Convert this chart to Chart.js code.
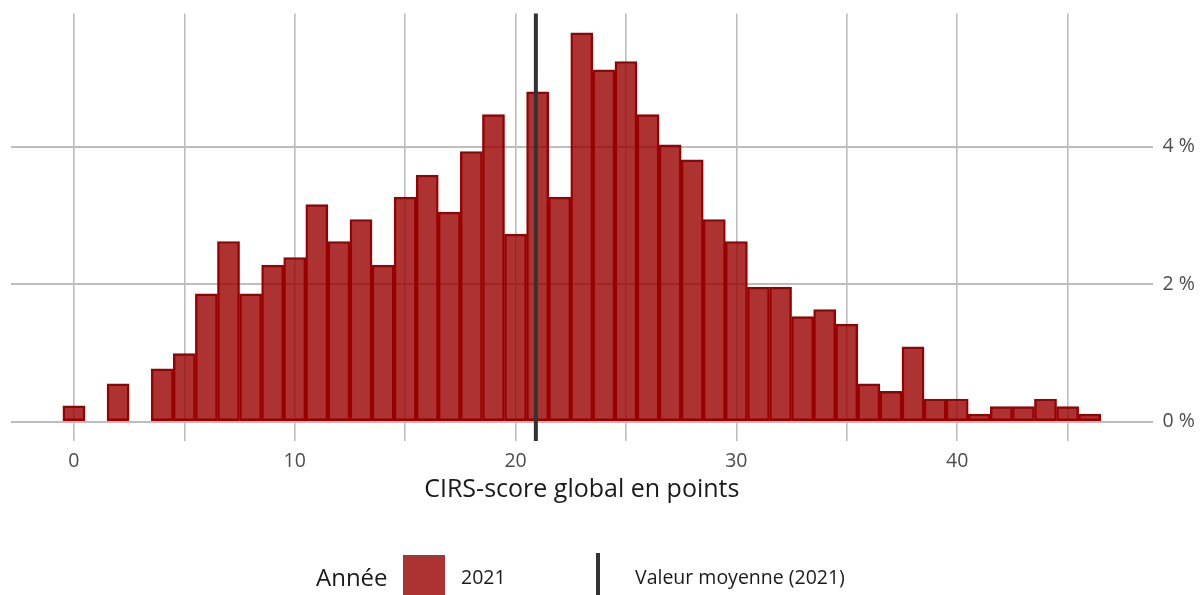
<!DOCTYPE html>
<html lang="fr">
<head>
<meta charset="utf-8">
<title>CIRS-score global</title>
<script src="https://cdn.jsdelivr.net/npm/chart.js@4/dist/chart.umd.min.js"></script>
<style>
  html, body { margin: 0; padding: 0; background: #fff; }
  #wrap { position: relative; width: 1203px; height: 595px; overflow: hidden; font-family: 'Open Sans', sans-serif; }
  #chart { position: absolute; left: 0; top: 0; }
  .lg { position: absolute; color: #1a1a1a; white-space: nowrap; }
  #lgTitle { left: 316px; top: 561px; font-size: 24px; line-height: 32px; }
  #lgBox { position: absolute; left: 403px; top: 555px; width: 42px; height: 42px; background: rgba(153,0,0,0.8); }
  #lgYear { left: 461px; top: 564px; font-size: 19.5px; line-height: 26px; }
  #lgLine { position: absolute; left: 596px; top: 553px; width: 4px; height: 44px; background: #333; }
  #lgMean { left: 635px; top: 564px; font-size: 19.5px; line-height: 26px; }
</style>
</head>
<body>
<div id="wrap">
  <canvas id="chart" width="1203" height="595"></canvas>
  <div class="lg" id="lgTitle">Année</div>
  <div id="lgBox"></div>
  <div class="lg" id="lgYear">2021</div>
  <div id="lgLine"></div>
  <div class="lg" id="lgMean">Valeur moyenne (2021)</div>
</div>
<script>
// ─── Data ─────────────────────────────────────────────────────────

// CIRS score bins (points), one bar per integer value
const scores = [
  0, 1, 2, 3, 4, 5, 6, 7, 8, 9,
  10, 11, 12, 13, 14, 15, 16, 17, 18, 19,
  20, 21, 22, 23, 24, 25, 26, 27, 28, 29,
  30, 31, 32, 33, 34, 35, 36, 37, 38, 39,
  40, 41, 42, 43, 44, 45, 46,
];

// share of residents per score, in % (2021)
const share2021 = [
  0.23, 0, 0.55, 0, 0.77, 0.99, 1.86, 2.62, 1.86, 2.28,
  2.39, 3.16, 2.62, 2.94, 2.28, 3.27, 3.59, 3.05, 3.93, 4.47,
  2.73, 4.80, 3.27, 5.66, 5.12, 5.24, 4.47, 4.03, 3.81, 2.94,
  2.62, 1.96, 1.96, 1.53, 1.63, 1.42, 0.55, 0.44, 1.09, 0.33,
  0.33, 0.11, 0.22, 0.22, 0.33, 0.22, 0.11,
];

const meanScore2021 = 20.92;

const xTicks = [0, 5, 10, 15, 20, 25, 30, 35, 40, 45];
const xLabels = [0, 10, 20, 30, 40];
const yTicks = [0, 2, 4];

// ─── Styling ──────────────────────────────────────────────────────

const GRID = '#bdbdbd';
const TICK_COLOR = '#4d4d4d';
const FONT = "'Open Sans', sans-serif";

// vertical line for the mean, drawn on top of the bars
const meanLinePlugin = {
  id: 'meanLine',
  afterDatasetsDraw(chart) {
    const { ctx, chartArea, scales } = chart;
    const x = scales.x.getPixelForValue(meanScore2021);
    ctx.save();
    ctx.strokeStyle = '#333333';
    ctx.lineWidth = 4;
    ctx.beginPath();
    ctx.moveTo(x, chartArea.top);
    ctx.lineTo(x, chartArea.bottom);
    ctx.stroke();
    ctx.restore();
  },
};

// drop the label overhang Chart.js reserves, so the panel sits where we put it
function noEdgePadding(scale) {
  scale.paddingTop = 0;
  scale.paddingBottom = 0;
  scale.paddingLeft = 0;
  scale.paddingRight = 0;
}

new Chart(document.getElementById('chart'), {
  type: 'bar',
  data: {
    datasets: [{
      label: '2021',
      data: scores.map((s, i) => ({ x: s, y: share2021[i] || null })),
      backgroundColor: 'rgba(153,0,0,0.8)',
      borderColor: '#990000',
      borderWidth: 1.8,
      borderSkipped: false,
      barPercentage: 1,
      categoryPercentage: 1,
    }],
  },
  options: {
    responsive: false,
    animation: false,
    layout: { padding: { left: 11, top: 13.6, right: 0, bottom: 90 } },
    plugins: {
      legend: { display: false },
      tooltip: { enabled: false },
    },
    scales: {
      x: {
        type: 'linear',
        offset: false,
        min: -2.85,
        max: 48.85,
        afterBuildTicks: (scale) => { scale.ticks = xTicks.map((v) => ({ value: v })); },
        afterFit: (scale) => { scale.height = 63.9; noEdgePadding(scale); },
        grid: { offset: false, color: GRID, lineWidth: 1.6, drawTicks: false },
        border: { display: false },
        ticks: {
          autoSkip: false,
          maxRotation: 0,
          padding: 9,
          color: TICK_COLOR,
          font: { family: FONT, size: 19.5 },
          callback: (v) => (xLabels.includes(v) ? String(v) : ''),
        },
        title: {
          display: true,
          text: 'CIRS-score global en points',
          color: '#1a1a1a',
          font: { family: FONT, size: 25 },
          padding: { top: 0, bottom: 0 },
        },
      },
      y: {
        position: 'right',
        min: -0.283,
        max: 5.94,
        afterBuildTicks: (scale) => { scale.ticks = yTicks.map((v) => ({ value: v })); },
        afterFit: (scale) => { scale.width = 50.4; noEdgePadding(scale); },
        grid: { color: GRID, lineWidth: 2, drawTicks: false },
        border: { display: false },
        ticks: {
          padding: 10,
          color: TICK_COLOR,
          font: { family: FONT, size: 19.5 },
          callback: (v) => v + ' %',
        },
      },
    },
  },
  plugins: [meanLinePlugin],
});
</script>
</body>
</html>
